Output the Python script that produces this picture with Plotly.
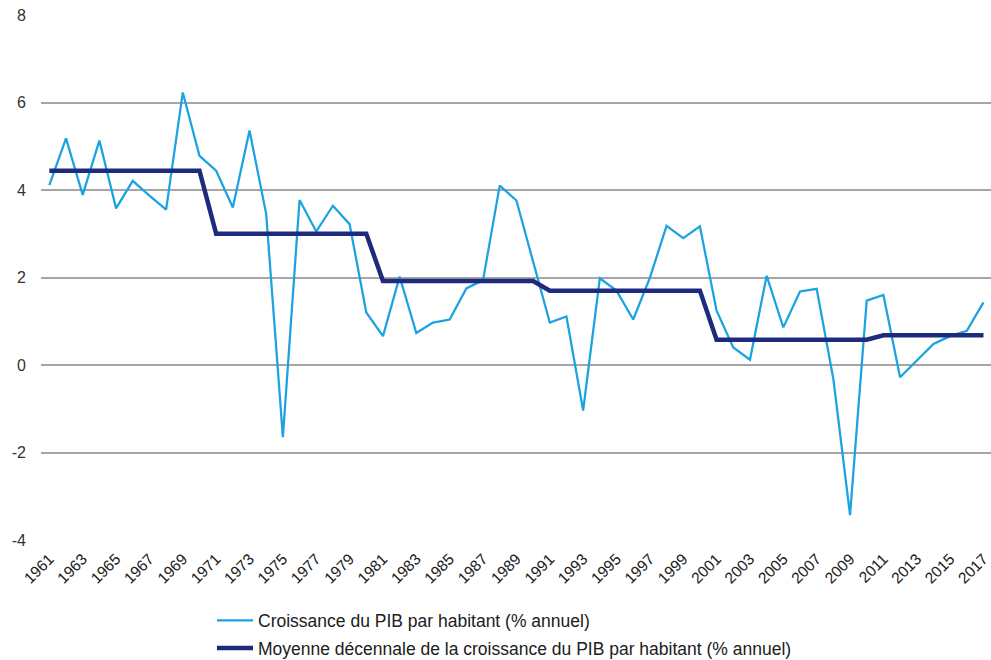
import plotly.graph_objects as go

years = list(range(1961, 2018))
croissance = [4.11, 5.18, 3.89, 5.13, 3.58, 4.21, 3.87, 3.55, 6.23, 4.78,
              4.44, 3.60, 5.36, 3.45, -1.65, 3.77, 3.05, 3.64, 3.22, 1.20,
              0.66, 2.02, 0.73, 0.97, 1.04, 1.75, 1.94, 4.10, 3.76, 2.37,
              0.97, 1.11, -1.04, 1.98, 1.70, 1.04, 1.99, 3.18, 2.90, 3.17,
              1.24, 0.40, 0.12, 2.04, 0.86, 1.68, 1.74, -0.32, -3.43, 1.47,
              1.60, -0.28, 0.10, 0.48, 0.66, 0.78, 1.43]
decade_means = [4.44] * 10 + [3.00] * 10 + [1.92] * 10 + [1.70] * 10 + [0.58] * 10 + [0.68] * 7

y_tick_vals = [-4, -2, 0, 2, 4, 6, 8]
y_tick_text = ["-4", "-2", "0", "2", "4", "6", "8"]

name1 = "Croissance du PIB par habitant (% annuel)"
name2 = "Moyenne décennale de la croissance du PIB par habitant (% annuel)"

fig = go.Figure()
fig.add_trace(go.Scatter(x=years, y=croissance, mode="lines", name=name1,
                         legendgroup="a",
                         line=dict(color="#1AA3E0", width=2.25)))
fig.add_trace(go.Scatter(x=years, y=decade_means, mode="lines", name=name2,
                         legendgroup="b",
                         line=dict(color="#1E2A7C", width=4.5)))

fig.update_layout(
    width=991, height=660,
    margin=dict(l=41, r=0, t=15, b=120, autoexpand=False),
    plot_bgcolor="white", paper_bgcolor="white",
    font=dict(family="Liberation Sans, Arial, sans-serif", size=16, color="#333333"),
    xaxis=dict(range=[1960.5, 2017.45], tickmode="linear", tick0=1961, dtick=2,
               tickangle=-45, showgrid=False, zeroline=False, showline=False,
               tickfont=dict(size=15.5, color="#202020"), ticks="",
               ticklabelstandoff=6, ticklabeloverflow="allow"),
    yaxis=dict(range=[-4, 8], tickmode="array", tickvals=y_tick_vals, ticktext=y_tick_text,
               showgrid=True, gridcolor="#A6A6A6", gridwidth=1.5,
               zeroline=False, showline=False, ticks="", ticklabelstandoff=14,
               tickfont=dict(size=16, color="#333333")),
    legend=dict(orientation="v", x=0.18, y=-0.119, xanchor="left", yanchor="top",
                font=dict(size=17.5, color="#202020"), traceorder="grouped",
                tracegroupgap=2, itemwidth=36,
                bgcolor="rgba(0,0,0,0)"),
    showlegend=True,
)

fig.write_html("out.html", config={"displayModeBar": False},
               post_script="document.body.style.margin='0';")
